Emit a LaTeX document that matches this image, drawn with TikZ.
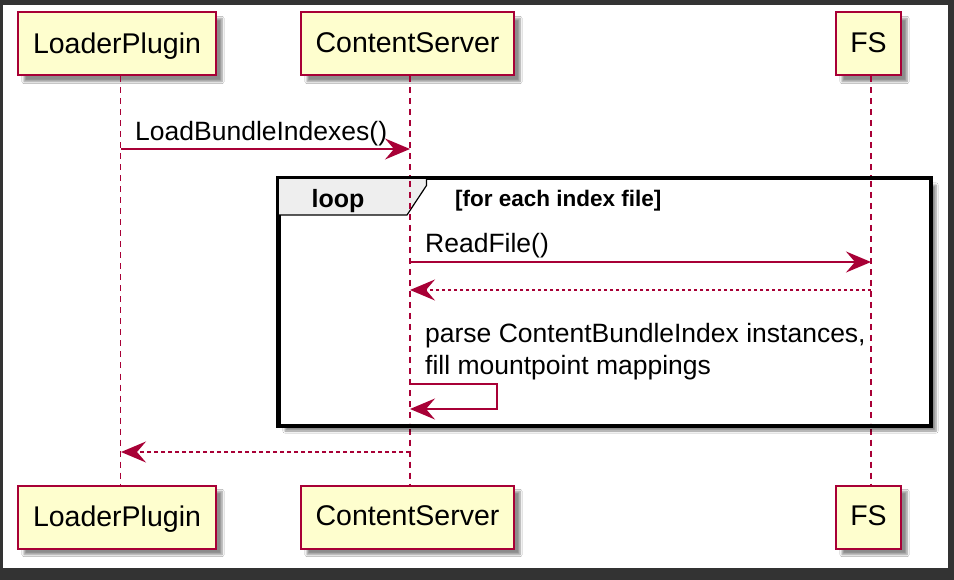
\documentclass[tikz,border=0pt]{standalone}
\usepackage{fontspec}
\setmainfont{Liberation Sans}
\usetikzlibrary{arrows.meta,shadows.blur}
\definecolor{frameDark}{HTML}{333333}
\definecolor{pumlRed}{HTML}{A80036}
\definecolor{pumlFill}{HTML}{FEFECE}
\definecolor{tabFill}{HTML}{EEEEEE}
\tikzset{
  participant/.style={draw=pumlRed, line width=2pt, fill=pumlFill, minimum height=63pt, inner sep=0pt,
    font=\fontsize{28.5}{32}\selectfont, text depth=2pt,
    blur shadow={shadow xshift=6pt, shadow yshift=-6pt, shadow blur steps=6, shadow opacity=45}},
  lifeline/.style={draw=pumlRed, line width=1.2pt, dash pattern=on 6pt off 5pt},
  msg/.style={draw=pumlRed, line width=1.5pt, -{Stealth[length=25pt, width=21pt, inset=9pt]}},
  ret/.style={msg, dash pattern=on 3pt off 3pt},
  msgtext/.style={font=\fontsize{26.5}{30}\selectfont, anchor=base west, inner sep=0pt},
}
\begin{document}
\begin{tikzpicture}[x=1pt,y=-1pt]
\useasboundingbox (0,0) rectangle (954,580);
\fill[frameDark] (0,0) rectangle (954,580);
\fill[white] (3,5) rectangle (948,568);

% participants
\node[participant, minimum width=198pt] (lp) at (117,44) {LoaderPlugin};
\node[participant, minimum width=213pt] (cs) at (407.5,44) {ContentServer};
\node[participant, minimum width=65pt] (fs) at (868.5,44) {FS};
\node[participant, minimum width=198pt] (lpb) at (117,517) {LoaderPlugin};
\node[participant, minimum width=213pt] (csb) at (407.5,517) {ContentServer};
\node[participant, minimum width=65pt] (fsb) at (868.5,517) {FS};

% lifelines
\draw[lifeline] ([xshift=3.5pt]lp.south) -- ([xshift=3.5pt]lpb.north);
\draw[lifeline] ([xshift=2.5pt]cs.south) -- ([xshift=2.5pt]csb.north);
\draw[lifeline] ([xshift=2.5pt]fs.south) -- ([xshift=2.5pt]fsb.north);

% loop frame
\node[draw=black, line width=3pt, minimum width=651pt, minimum height=246pt, inner sep=0pt,
  blur shadow={shadow xshift=6pt, shadow yshift=-6pt, shadow blur steps=6, shadow opacity=45}, fill=white]
  (loopframe) at (604.5,302) {};
\filldraw[fill=tabFill, draw=black, line width=1.2pt]
  (loopframe.north west) -- ++(149,0) -- ++(0,8) -- (407,215) -- (loopframe.north west |- 0,215) -- cycle;
\draw[black, line width=3pt] (loopframe.north west) rectangle (loopframe.south east);
\node[font=\bfseries\fontsize{25}{30}\selectfont, anchor=base, inner sep=0pt] (looplabel) at (338,208) {loop};
\node[font=\bfseries\fontsize{22.5}{26}\selectfont, anchor=base west, inner sep=0pt] (loopguard) at (455,207) {[for each index file]};

% lifeline redraw inside frame (frame is filled)
\coordinate (csTop) at (410,181);
\coordinate (csBot) at (410,423);
\coordinate (fsTop) at (871,181);
\coordinate (fsBot) at (871,423);
\draw[lifeline] (csTop) -- (csBot);
\draw[lifeline] (fsTop) -- (fsBot);

% messages
\coordinate (m1a) at (121,149); \coordinate (m1b) at (410,149);
\draw[msg] (m1a) -- (m1b);
\node[msgtext] (m1t) at (135,141) {LoadBundleIndexes()};

\coordinate (m2a) at (410,262); \coordinate (m2b) at (871,262);
\draw[msg] (m2a) -- (m2b);
\node[msgtext] (m2t) at (425,253) {ReadFile()};

\coordinate (m3a) at (871,290); \coordinate (m3b) at (410,290);
\draw[ret] (m3a) -- (m3b);

\node[msgtext] (m4t) at (425,343) {parse ContentBundleIndex instances,};
\node[msgtext] (m4t2) at (425,374) {fill mountpoint mappings};
\coordinate (m4a) at (410,384); \coordinate (m4b) at (410,409);
\draw[msg] (m4a) -- (497,384) -- (497,409) -- (m4b);

\coordinate (m5a) at (410,452); \coordinate (m5b) at (121,452);
\draw[ret, dash pattern=on 4pt off 3pt] (m5a) -- (m5b);
\end{tikzpicture}
\end{document}
